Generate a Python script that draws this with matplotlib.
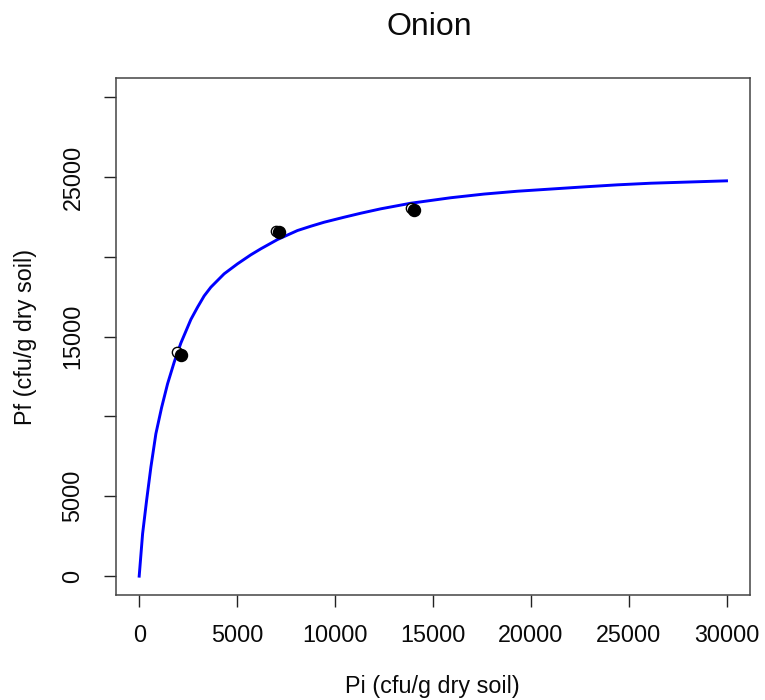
import matplotlib
matplotlib.use("Agg")
import matplotlib.pyplot as plt

plt.rcParams['font.family'] = ['Liberation Sans', 'DejaVu Sans']

# Observed data (filled points and overlapping open replicates)
pi_filled = [2150, 7150, 14040]
pf_filled = [13840, 21540, 22960]
pi_open = [1910, 6980, 13880]
pf_open = [14030, 21620, 23080]

# Fitted curve
pi_fit = [0, 174, 378, 597, 852, 1143, 1450, 1787, 2129, 2639, 2981, 3318,
          3660, 4339, 5023, 5702, 6212, 7065, 8086, 8765, 9444, 10465, 11317,
          12338, 13869, 15911, 17611, 19316, 22716, 24420, 26136, 30000]
pf_fit = [0, 2655, 4740, 6825, 8917, 10550, 12048, 13400, 14600, 16074, 16844,
          17550, 18096, 18935, 19562, 20125, 20501, 21083, 21647, 21916, 22166,
          22480, 22730, 23006, 23356, 23700, 23930, 24108, 24380, 24508, 24610,
          24759]

x_ticks = [0, 5000, 10000, 15000, 20000, 25000, 30000]
y_ticks = [0, 5000, 10000, 15000, 20000, 25000, 30000]
y_tick_labels = ['0', '5000', '', '15000', '', '25000', '']

title = "Onion"
x_label = "Pi (cfu/g dry soil)"
y_label = "Pf (cfu/g dry soil)"

W, H = 765, 700
fig = plt.figure(figsize=(W / 100, H / 100), dpi=100)
left, right, top, bottom = 115.7, 750, 78, 595.3
ax = fig.add_axes([left / W, 1 - bottom / H, (right - left) / W, (bottom - top) / H])

ax.plot(pi_fit, pf_fit, color='#0000ff', lw=2.1, zorder=2,
        solid_joinstyle='round')
ax.scatter(pi_open, pf_open, s=55, facecolors='white', edgecolors='black',
           linewidths=1.0, zorder=3)
ax.scatter(pi_filled, pf_filled, s=75, color='black', zorder=4)

ax.set_xlim(-1200, 31200)
ax.set_ylim(-1200, 31200)
ax.set_xticks(x_ticks)
ax.set_xticklabels([str(v) for v in x_ticks])
ax.set_yticks(y_ticks)
ax.set_yticklabels(y_tick_labels, rotation=90, va='center')

ax.tick_params(axis='both', direction='out', length=8.5, width=1.0,
               color='#222222', labelsize=16.8, labelcolor='#0a0a0a')
ax.tick_params(axis='x', pad=12.5)
ax.tick_params(axis='y', pad=14)

for sp in ax.spines.values():
    sp.set_color('#444444')
    sp.set_linewidth(1.1)

ax.set_xlabel(x_label, fontsize=16.8, color='#0a0a0a')
ax.xaxis.label.set_va('center')
ax.xaxis.set_label_coords(0.5, (bottom - 687) / (bottom - top))
ax.set_ylabel(y_label, fontsize=16.8, color='#0a0a0a')
ax.yaxis.label.set_va('center')
ax.yaxis.set_label_coords((26 - left) / (right - left), 0.5)

fig.text((left + right) / 2 / W - 0.004, 1 - 27 / H, title, ha='center', va='center',
         fontsize=23, color='#0a0a0a')

fig.savefig("out.png", dpi=100)
